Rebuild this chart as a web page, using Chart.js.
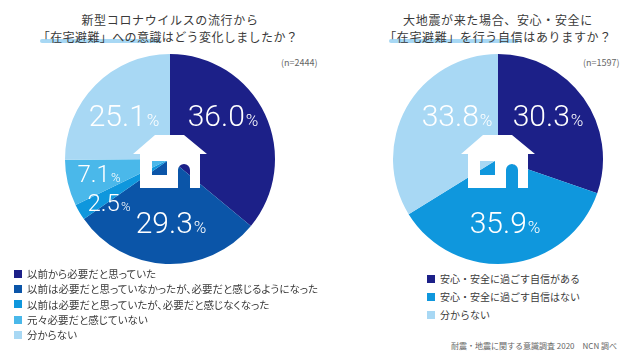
<!DOCTYPE html>
<html lang="ja">
<head>
<meta charset="utf-8">
<script src="https://cdn.jsdelivr.net/npm/chart.js@4/dist/chart.umd.min.js"></script>
<style>
  html, body { margin: 0; padding: 0; background: #fff; }
  body { position: relative; width: 640px; height: 360px; overflow: hidden; font-family: "Noto Sans CJK JP", sans-serif; color: #3a3a3a; }
  canvas { position: absolute; top: 49px; }
  .title { position: absolute; top: 11px; width: 320px; text-align: center; font-size: 12px; line-height: 17px; letter-spacing: 0.65px; white-space: nowrap; }
  .title span { display: block; position: relative; }
  #title1 span + span { letter-spacing: 0.4px; left: -2px; }
  .mark { position: absolute; top: 39px; height: 4px; background: #a8d8f4; border-radius: 2px 0 0 2px; }
  .n { position: absolute; top: 57px; font-size: 9px; line-height: 12px; color: #666; white-space: nowrap; }
  .legend { position: absolute; font-size: 10px; white-space: nowrap; }
  .legend div { position: relative; padding-left: 13px; }
  .legend i { position: absolute; left: 0; top: 50%; width: 8px; height: 8px; margin-top: -4px; }
  #legend1 { font-size: 10.5px; font-feature-settings: "palt"; }
  .source { position: absolute; top: 340px; right: 23px; font-size: 8px; line-height: 12px; color: #666; white-space: pre; }
</style>
</head>
<body>
<div class="mark" style="left:40px;width:120px"></div>
<div class="mark" style="left:389px;width:129px"></div>
<div class="title" id="title1" style="left:10px"></div>
<div class="title" id="title2" style="left:338px"></div>
<div class="n" id="n1" style="left:281px"></div>
<div class="n" id="n2" style="left:583px"></div>
<canvas id="chart1" width="220" height="220" style="left:60px"></canvas>
<canvas id="chart2" width="220" height="220" style="left:388px"></canvas>
<div class="legend" id="legend1" style="left:14px;top:266px;line-height:15.33px"></div>
<div class="legend" id="legend2" style="left:427px;top:270px;line-height:18px"></div>
<div class="source" id="source"></div>
<script>
// Left chart
const title1 = ['新型コロナウイルスの流行から', '「在宅避難」への意識はどう変化しましたか？'];
const sample1 = '(n=2444)';
const categories1 = [
    '以前から必要だと思っていた',
    '以前は必要だと思っていなかったが、必要だと感じるようになった',
    '以前は必要だと思っていたが、必要だと感じなくなった',
    '元々必要だと感じていない',
    '分からない'
];
const values1 = [36.0, 29.3, 2.5, 7.1, 25.1];
const colors1 = ['#1c2088', '#0b55a8', '#0f97dd', '#4ab8ea', '#a8d8f4'];

// Right chart
const title2 = ['大地震が来た場合、安心・安全に', '「在宅避難」を行う自信はありますか？'];
const sample2 = '(n=1597)';
const categories2 = [
    '安心・安全に過ごす自信がある',
    '安心・安全に過ごす自信はない',
    '分からない'
];
const values2 = [30.3, 35.9, 33.8];
const colors2 = ['#1c2088', '#0f97dd', '#a8d8f4'];

const sourceText = '耐震・地震に関する意識調査 2020　NCN 調べ';

// Value label placement, relative to the pie centre: [dx, dy, font size]
const labelPlace1 = [[53, -44, 30], [1, 63, 30], [-61, 43, 24], [-71, 14, 24], [-46, -44, 30]];
const labelPlace2 = [[50, -44, 30], [7, 63, 30], [-41, -44, 30]];

/**
 * Draws the big thin percentages on top of the slices.
 */
const valueLabels = {
    id: 'valueLabels',
    afterDatasetsDraw(chart, args, opts) {
        const ctx = chart.ctx;
        const arc = chart.getDatasetMeta(0).data[0];
        const values = chart.data.datasets[0].data;
        ctx.save();
        ctx.fillStyle = '#fff';
        ctx.textBaseline = 'alphabetic';
        values.forEach((value, i) => {
            const [dx, dy, size] = opts.place[i];
            const num = value.toFixed(1);
            const pctSize = Math.round(size * 0.55);
            ctx.font = `300 ${size}px Roboto, sans-serif`;
            const numWidth = ctx.measureText(num).width;
            ctx.font = `300 ${pctSize}px Roboto, sans-serif`;
            const pctWidth = ctx.measureText('%').width;
            const left = arc.x + dx - (numWidth + 1 + pctWidth) / 2;
            const base = arc.y + dy + size * 0.36;
            ctx.font = `300 ${size}px Roboto, sans-serif`;
            ctx.fillText(num, left, base);
            ctx.font = `300 ${pctSize}px Roboto, sans-serif`;
            ctx.fillText('%', left + numWidth + 1, base);
        });
        ctx.restore();
    }
};

/**
 * Draws the white house in the middle. Window and door are holes, the pie shows through.
 */
const houseIcon = {
    id: 'houseIcon',
    afterDatasetsDraw(chart) {
        const ctx = chart.ctx;
        const { x, y } = chart.getDatasetMeta(0).data[0];
        ctx.save();
        ctx.translate(x, y);
        ctx.fillStyle = '#fff';
        ctx.beginPath();
        // outline
        ctx.moveTo(-15, -24);
        ctx.lineTo(14, -24);
        ctx.lineTo(37, -5);
        ctx.lineTo(30, -5);
        ctx.lineTo(30, 29);
        ctx.lineTo(20, 29);
        // door
        ctx.lineTo(20, 11);
        ctx.arc(14, 11, 6, 0, Math.PI, true);
        ctx.lineTo(8, 29);
        ctx.lineTo(-30, 29);
        ctx.lineTo(-30, -5);
        ctx.lineTo(-37, -5);
        ctx.closePath();
        // window
        ctx.rect(-18, 2, 15, 14);
        ctx.fill('evenodd');
        ctx.restore();
    }
};

function makePie(id, labels, values, colors, place) {
    return new Chart(document.getElementById(id), {
        type: 'pie',
        data: {
            labels: labels,
            datasets: [{ data: values, backgroundColor: colors, borderWidth: 0 }]
        },
        options: {
            responsive: false,
            animation: false,
            radius: 105,
            layout: { padding: 0 },
            plugins: {
                legend: { display: false },
                tooltip: { enabled: false },
                valueLabels: { place: place }
            }
        },
        plugins: [valueLabels, houseIcon]
    });
}

function fillLegend(id, labels, colors) {
    const box = document.getElementById(id);
    labels.forEach((label, i) => {
        const row = document.createElement('div');
        const swatch = document.createElement('i');
        swatch.style.background = colors[i];
        row.appendChild(swatch);
        row.appendChild(document.createTextNode(label));
        box.appendChild(row);
    });
}

function fillTitle(id, lines) {
    const box = document.getElementById(id);
    lines.forEach(line => {
        const span = document.createElement('span');
        span.textContent = line;
        box.appendChild(span);
    });
}

fillTitle('title1', title1);
fillTitle('title2', title2);
document.getElementById('n1').textContent = sample1;
document.getElementById('n2').textContent = sample2;
document.getElementById('source').textContent = sourceText;
fillLegend('legend1', categories1, colors1);
fillLegend('legend2', categories2, colors2);

document.fonts.load('300 30px Roboto').finally(() => {
    makePie('chart1', categories1, values1, colors1, labelPlace1);
    makePie('chart2', categories2, values2, colors2, labelPlace2);
});
</script>
</body>
</html>
